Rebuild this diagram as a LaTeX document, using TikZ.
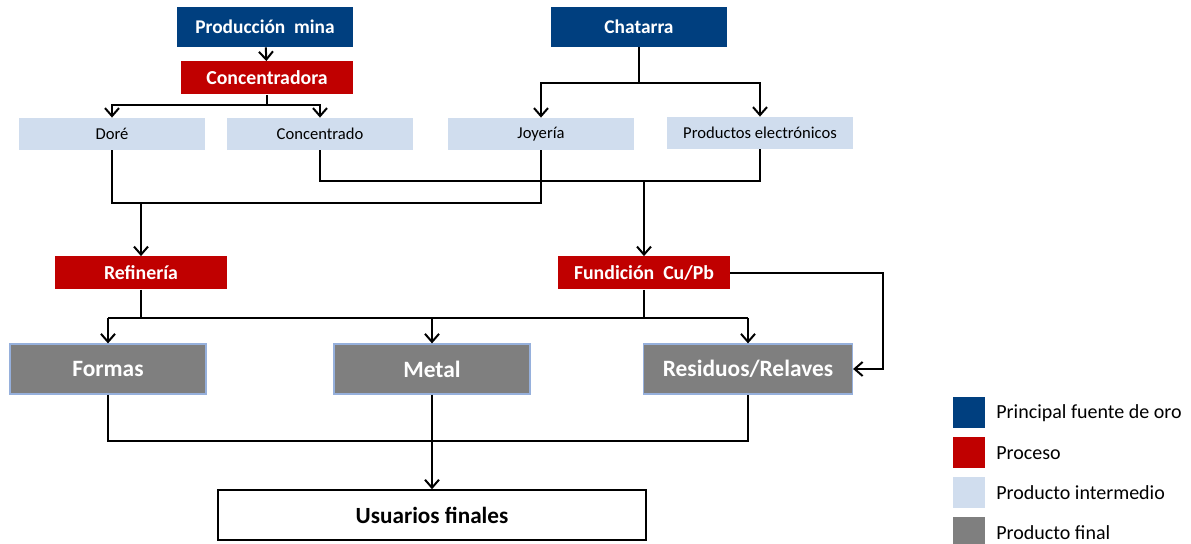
\documentclass[tikz,border=0pt]{standalone}
\usepackage{fontspec}
\setmainfont{Carlito}
\usetikzlibrary{arrows.meta,positioning}
\definecolor{fuente}{RGB}{0,63,127}
\definecolor{proceso}{RGB}{192,0,0}
\definecolor{interm}{RGB}{208,221,238}
\definecolor{final}{RGB}{127,127,127}
\definecolor{finalborde}{RGB}{150,176,220}

\begin{document}
\begin{tikzpicture}[x=0.5pt, y=-0.5pt,
    box/.style = {align=center, inner sep=0pt, text centered},
    src/.style = {box, fill=fuente, text=white, font=\bfseries\fontsize{9.7}{11}\selectfont, minimum width=88pt, minimum height=20pt},
    proc/.style = {box, fill=proceso, text=white, font=\bfseries\fontsize{9.9}{11}\selectfont, minimum width=86pt, minimum height=16.5pt},
    mid/.style = {box, fill=interm, font=\fontsize{8.3}{10}\selectfont, minimum width=93pt, minimum height=16pt},
    prod/.style = {box, fill=final, draw=finalborde, line width=0.6pt, text=white, font=\bfseries\fontsize{11.7}{13}\selectfont, minimum width=98pt, minimum height=25pt},
    flow/.style = {line width=1pt, -{Straight Barb[length=4pt,width=7pt]}},
    link/.style = {line width=1pt},
    legsq/.style = {inner sep=0pt, minimum width=16pt, minimum height=15.5pt},
    legtxt/.style = {anchor=west, inner sep=0pt, font=\fontsize{10}{12}\selectfont}]
\useasboundingbox (0,0) rectangle (1191,544);

\node [src] (mina) at (265,27) {Producción~ mina};
\node [src] (chatarra) at (639,27) {Chatarra};
\node [proc] (concentradora) at (267,78) {Concentradora};
\node [mid] (dore) at (112,134) {Doré};
\node [mid] (concentrado) at (320,134) {Concentrado};
\node [mid] (joyeria) at (541,134) {Joyería};
\node [mid] (electronicos) at (760,133) {Productos electrónicos};
\node [proc] (refineria) at (141,273) {Refinería};
\node [proc] (fundicion) at (644,273) {Fundición~ Cu/Pb};
\node [prod] (formas) at (108,369) {Formas};
\node [prod] (metal) at (432,369) {Metal};
\node [prod, minimum width=104.5pt] (residuos) at (748,369) {Residuos/Relaves};
\node [box, draw=black, line width=0.75pt, font=\bfseries\fontsize{11.6}{13}\selectfont, minimum width=214pt, minimum height=25pt] (usuarios) at (432,515) {Usuarios finales};

\coordinate (c1) at (267,105);
\coordinate (s1) at (639,83);
\coordinate (j1) at (541,203);
\coordinate (e1) at (760,181);
\coordinate (r1) at (432,318);
\coordinate (u1) at (432,441);

\draw [flow] (mina) -- (concentradora);
\draw [link] (concentradora) -- (c1);
\draw [flow] (c1) -| (dore);
\draw [flow] (c1) -| (concentrado);
\draw [link] (chatarra) -- (s1);
\draw [flow] (s1) -| (joyeria);
\draw [flow] (s1) -| (electronicos);

\draw [link] (dore) |- (j1) -- (joyeria);
\draw [flow] (refineria |- j1) -- (refineria);
\draw [link] (concentrado) |- (e1) -- (electronicos);
\draw [flow] (fundicion |- e1) -- (fundicion);

\draw [link] (refineria) -- (refineria |- r1);
\draw [link] (fundicion) -- (fundicion |- r1);
\draw [link] (formas |- r1) -- (residuos |- r1);
\draw [flow] (formas |- r1) -- (formas);
\draw [flow] (r1) -- (metal);
\draw [flow] (residuos |- r1) -- (residuos);
\draw [flow] (fundicion.east) -- ++(153,0) |- (residuos.east);

\draw [link] (formas) |- (u1) -| (residuos);
\draw [flow] (metal) -- (usuarios);

\node [legsq, fill=fuente] (leg1) at (969,413) {};
\node [legsq, fill=proceso] (leg2) at (969,453) {};
\node [legsq, fill=interm] (leg3) at (969,493) {};
\node [legsq, fill=final] (leg4) at (969,533) {};
\node [legtxt] (legt1) at (996,413) {Principal fuente de oro};
\node [legtxt] (legt2) at (996,453) {Proceso};
\node [legtxt] (legt3) at (996,493) {Producto intermedio};
\node [legtxt] (legt4) at (996,533) {Producto final};
\end{tikzpicture}
\end{document}
